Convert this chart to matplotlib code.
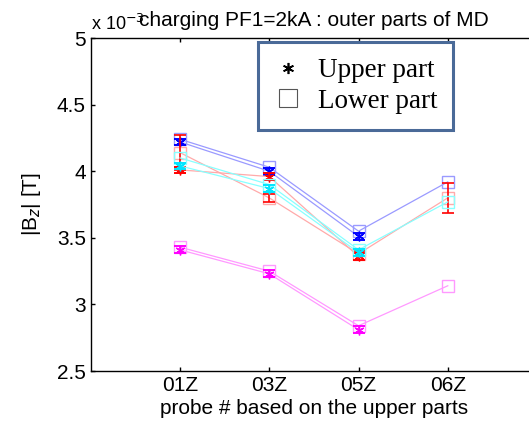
import numpy as np
import matplotlib.pyplot as plt
from matplotlib.lines import Line2D

plt.rcParams['font.family'] = ['Liberation Sans', 'DejaVu Sans']

probes = ['01Z', '03Z', '05Z', '06Z']
x_upper = [1, 2, 3]
x_lower = [1, 2, 3, 4]

# |Bz| in units of 1e-3 T
blue_up = [4.22, 4.00, 3.51]
blue_low = [4.24, 4.03, 3.55, 3.92]
red_up = [4.01, 3.96, 3.36]
red_low = [4.14, 3.80, 3.38, 3.80]
red_low_err = [0.13, 0.03, 0.02, 0.11]
cyan_up = [4.04, 3.87, 3.39]
cyan_low = [4.10, 3.90, 3.41, 3.77]
mag_up = [3.41, 3.23, 2.81]
mag_low = [3.43, 3.25, 2.84, 3.14]
up_err = 0.025

series = [
    (blue_up, blue_low, None, '#0000ff', '#9a9aff'),
    (red_up, red_low, red_low_err, '#ff0000', '#ffaaaa'),
    (cyan_up, cyan_low, None, '#00e5ff', '#88ffff'),
    (mag_up, mag_low, None, '#ff00ff', '#ff99ff'),
]

asterisk = (6, 2, 0)

fig = plt.figure(figsize=(5.29, 4.25), dpi=100)
ax = fig.add_axes([0.1715, 0.127, 0.8437, 0.7835])
ax.patch.set_visible(False)

for up, low, lerr, dark, light in series:
    ax.plot(x_upper, up, '-', color=light, lw=0.9)
    ax.plot(x_lower, low, '-', color=light, lw=0.9)
    ax.plot(x_lower, low, 's', mfc='none', mec=light, ms=8.5, mew=1.0)
    ax.errorbar(x_upper, up, yerr=up_err, fmt='none', ecolor=dark,
                capsize=4, elinewidth=1.2, capthick=1.4)
    ax.plot(x_upper, up, ls='none', marker=asterisk, color=dark, ms=7, mew=1.0)
    if lerr is not None:
        ax.errorbar(x_lower, low, yerr=lerr, fmt='none', ecolor=dark,
                    capsize=4, elinewidth=1.2, capthick=1.2)

ax.set_xlim(0, 5)
ax.set_ylim(2.5, 5)
ax.set_xticks(x_lower)
ax.set_xticklabels(probes)
ax.set_yticks([2.5, 3, 3.5, 4, 4.5, 5])
ax.set_yticklabels(['2.5', '3', '3.5', '4', '4.5', '5'])
ax.tick_params(direction='in', length=3, labelsize=15, top=True, right=False,
               width=1)
ax.spines['right'].set_visible(False)
for s in ax.spines.values():
    s.set_linewidth(1)

ax.set_title('charging PF1=2kA : outer parts of MD', fontsize=15, pad=9)
ax.text(0.0, 1.012, 'x 10$^{-3}$', transform=ax.transAxes, fontsize=13,
        ha='left', va='bottom')
ax.set_xlabel('probe # based on the upper parts', fontsize=15, labelpad=3)
ax.set_ylabel('|B$_z$| [T]', fontsize=15, labelpad=10)

handles = [
    Line2D([], [], ls='none', marker=asterisk, color='k', ms=8, mew=1.2),
    Line2D([], [], ls='none', marker='s', mfc='none', mec='#555555', ms=13,
           mew=0.8),
]
leg = ax.legend(handles, ['Upper part', 'Lower part'], loc='upper left',
                bbox_to_anchor=(0.375, 0.988), fancybox=False, framealpha=1,
                prop={'family': 'Liberation Serif', 'size': 19.5},
                handlelength=1.0, handletextpad=0.6, borderpad=0.6,
                labelspacing=0.2, borderaxespad=0)
leg.get_frame().set_edgecolor('#4a6a98')
leg.get_frame().set_linewidth(2.2)

fig.savefig('out.png', dpi=100)
